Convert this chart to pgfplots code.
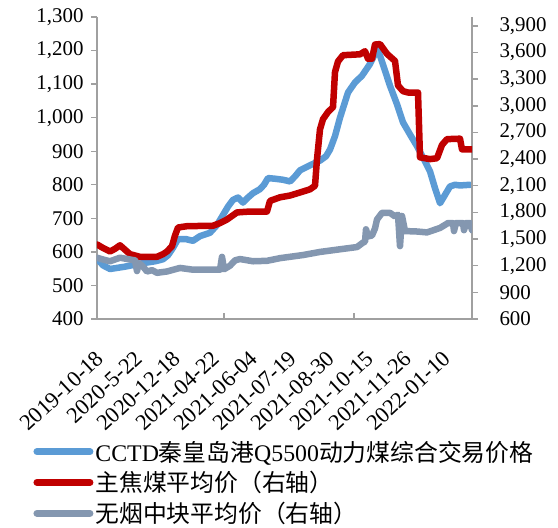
\documentclass[border=0pt]{standalone}
\usepackage{pgfplots}
\pgfplotsset{compat=1.18}
\usepackage{fontspec}
\setmainfont{Liberation Serif}
\newfontfamily\cjk{Noto Sans CJK SC}
\definecolor{cblue}{HTML}{5B9BD5}
\definecolor{cred}{HTML}{C00000}
\definecolor{cgray}{HTML}{8497B0}
\definecolor{axgray}{HTML}{A0A0A0}
\pgfplotsset{
  base/.style={scale only axis, width=375bp, height=302bp, xmin=0, xmax=375,
    axis line style={draw=axgray, line width=1.6bp},
    tick style={draw=axgray, line width=1.4bp},
    major tick length=6bp,
    tick align=outside,
    /pgf/number format/assume math mode=true,
    /pgf/number format/1000 sep={,},
    ticklabel style={font=\fontsize{21}{24}\selectfont},
  },
  ser/.style={line width=6.5bp, line join=round, line cap=round},
}
\begin{document}
\begin{tikzpicture}
\path[use as bounding box] (-97bp,-209bp) rectangle (461bp,319bp);
\begin{axis}[base, ymin=400, ymax=1300, ytick={400,500,...,1300},
  axis y line*=left, axis x line*=bottom,
  xtick={3,41.5,80,118.5,157,195.5,234,272.5,311,349.5},
  xticklabels={2019-10-18,2020-5-22,2020-12-18,2021-04-22,2021-06-04,2021-07-19,2021-08-30,2021-10-15,2021-11-26,2022-01-10},
  xtick style={draw=none},
  x tick label style={xshift=-5bp, yshift=-23bp, rotate=43, anchor=north east, inner sep=1bp, font=\fontsize{22.5}{25}\selectfont},
  y tick label style={xshift=-4bp},
]
\addplot[ser, cblue] coordinates {
(0,580)(6,560)(13,549)(28,556)(43,565)(58,572)(66,578)(71,590)(76,612)(81,638)
(89,638)(96,633)(103,647)(113,657)(120,680)(125,705)(131,735)(136,755)(141,762)
(146,747)(151,762)(156,775)(163,787)(167,800)(171,820)(178,818)(186,815)(193,810)
(198,825)(203,843)(213,858)(223,872)(229,885)(233,905)(238,945)(243,1000)(251,1075)
(258,1105)(265,1125)(273,1160)(280,1203)(283,1185)(288,1140)(293,1095)(300,1040)
(306,986)(313,950)(320,915)(328,870)(333,840)(338,790)(343,745)(348,770)(353,795)
(358,800)(363,798)(373,800)
};
\end{axis}
\begin{axis}[base, ymin=600, ymax=4000, ytick={600,900,...,3900},
  axis y line*=right, axis x line=none,
  y tick label style={xshift=18bp},
  legend style={at={(-0.17,-0.396)}, anchor=north west, draw=none, fill=none,
    font=\fontsize{23.9}{26}\selectfont, row sep=5bp, inner sep=0pt,
    nodes={inner sep=2bp}},
  legend cell align=left,
  legend image code/.code={\draw[#1, line width=7bp, line cap=round] (2bp,0bp) -- (55bp,0bp);},
]
\addlegendimage{ser, cblue}
\addlegendentry{CCTD{\cjk 秦皇岛港}Q5500{\cjk 动力煤综合交易价格}}
\addplot[ser, cred] coordinates {
(0,1440)(6,1400)(13,1360)(18,1390)(23,1430)(28,1380)(33,1330)(43,1300)(60,1300)
(66,1330)(70,1360)(75,1420)(78,1540)(81,1630)(90,1645)(116,1650)(123,1680)(130,1720)
(140,1800)(153,1810)(170,1810)(173,1930)(183,1970)(193,1990)(206,2035)(213,2060)
(218,2100)(220,2400)(223,2735)(226,2850)(231,2930)(236,2985)(238,3380)(241,3500)
(246,3570)(263,3580)(268,3615)(271,3530)(275,3530)(278,3690)(283,3695)(290,3585)
(298,3505)(301,3230)(306,3165)(311,3150)(321,3150)(323,2420)(333,2400)(340,2410)
(345,2560)(350,2625)(363,2630)(365,2510)(375,2510)
};
\addlegendentry{{\cjk 主焦煤平均价（右轴）}}
\addplot[ser, cgray] coordinates {
(0,1290)(6,1270)(13,1250)(23,1290)(33,1270)(38,1260)(40,1140)(42,1230)(46,1190)
(50,1135)(55,1150)(60,1120)(70,1135)(83,1175)(96,1155)(123,1155)(125,1300)(127,1160)
(133,1200)(138,1260)(143,1275)(156,1250)(170,1255)(183,1285)(206,1320)(223,1355)
(243,1385)(260,1410)(266,1460)(268,1470)(269,1610)(271,1530)(275,1540)(278,1620)
(280,1720)(285,1795)(293,1795)(298,1755)(301,1775)(303,1420)(305,1760)(308,1590)
(320,1585)(330,1575)(343,1625)(351,1680)(356,1680)(357,1590)(359,1680)(366,1680)
(367,1600)(369,1680)(373,1680)(375,1600)
};
\addlegendentry{{\cjk 无烟中块平均价（右轴）}}
\end{axis}
\begin{axis}[base, ymin=0, ymax=1, axis y line=none, axis x line*=bottom,
  tick align=inside, xtick={127,257}, xticklabels={}]
\end{axis}
\end{tikzpicture}
\end{document}
